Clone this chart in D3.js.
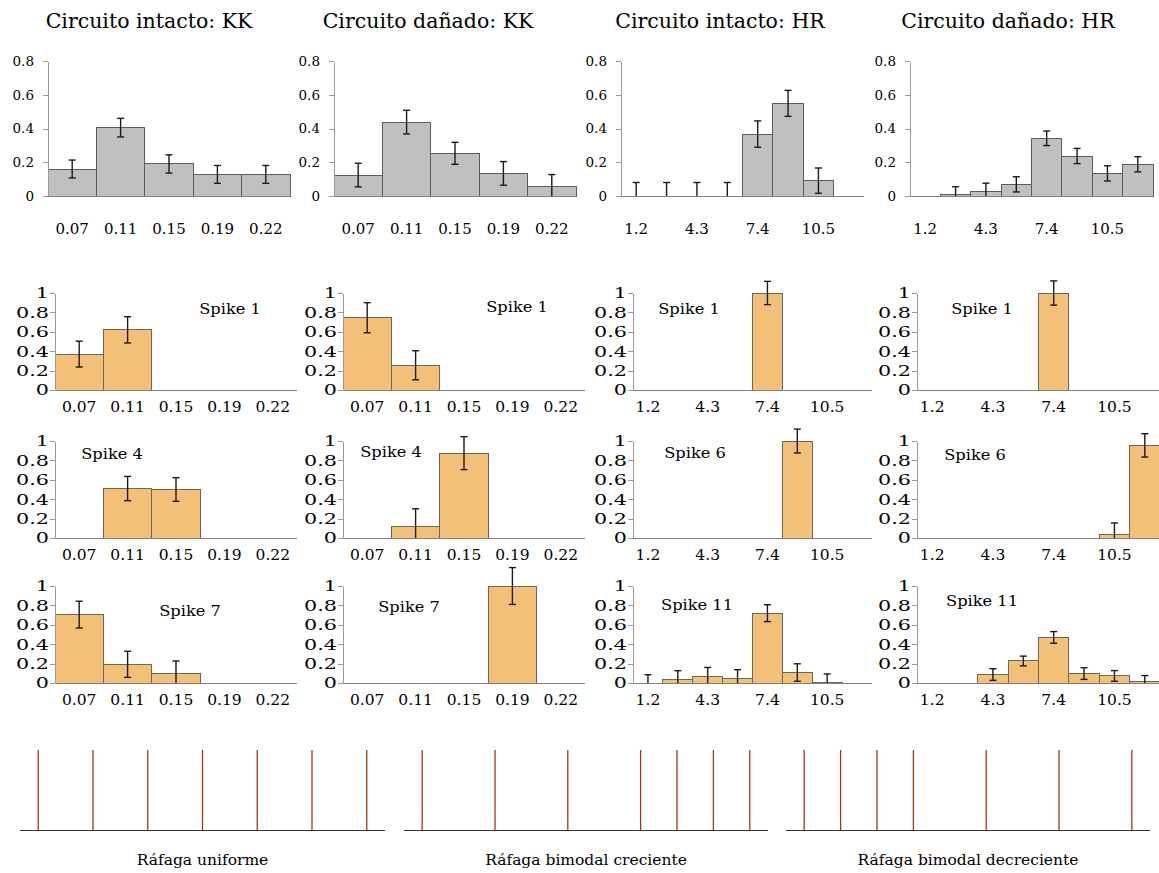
<!DOCTYPE html>
<html>
<head>
    <title>Histogramas de intervalos</title>
    <meta charset="utf-8">
    <style>
        body { margin: 0; background: #fff; }
        svg text { font-family: "DejaVu Serif", serif; fill: #000; }
        .axis path,
        .axis line {
            fill: none;
            stroke: #9a9a9a;
            shape-rendering: crispEdges;
        }
        .base { stroke: #808080; stroke-width: 1px; shape-rendering: crispEdges; }
        .bar { stroke-width: 1px; shape-rendering: crispEdges; }
        .err line { stroke: #1a1a1a; stroke-width: 1.4px; }
        .spike { stroke: #9a3c14; stroke-width: 1.3px; }
        .train { stroke: #333; stroke-width: 1.2px; }
    </style>
    <script src="https://d3js.org/d3.v7.min.js"></script>
</head>
<body>
    <script>
        var kkLabels = ["0.07", "0.11", "0.15", "0.19", "0.22"];
        var hrLabels = ["1.2", "", "4.3", "", "7.4", "", "10.5", ""];
        var titles = ["Circuito intacto: KK", "Circuito dañado: KK", "Circuito intacto: HR", "Circuito dañado: HR"];

        // fila 1: todos los spikes
        var kkIntacto    = [0.16, 0.405, 0.19, 0.128, 0.128];
        var kkIntactoErr = [0.053, 0.055, 0.054, 0.053, 0.053];
        var kkDanado     = [0.124, 0.438, 0.253, 0.134, 0.055];
        var kkDanadoErr  = [0.07, 0.07, 0.065, 0.07, 0.072];
        var hrIntacto    = [0, 0, 0, 0, 0.367, 0.549, 0.091, 0];
        var hrIntactoErr = [0.08, 0.08, 0.08, 0.08, 0.078, 0.077, 0.075, null];
        var hrDanado     = [0, 0.01, 0.026, 0.069, 0.342, 0.237, 0.134, 0.188];
        var hrDanadoErr  = [null, 0.045, 0.05, 0.045, 0.043, 0.045, 0.045, 0.045];

        // fila 2
        var kkIntactoS1    = [0.37, 0.62, 0, 0, 0];
        var kkIntactoS1Err = [0.133, 0.135, null, null, null];
        var kkDanadoS1     = [0.745, 0.255, 0, 0, 0];
        var kkDanadoS1Err  = [0.155, 0.15, null, null, null];
        var hrIntactoS1    = [0, 0, 0, 0, 1, 0, 0, 0];
        var hrIntactoS1Err = [null, null, null, null, 0.12, null, null, null];
        var hrDanadoS1     = [0, 0, 0, 0, 1, 0, 0, 0];
        var hrDanadoS1Err  = [null, null, null, null, 0.125, null, null, null];

        // fila 3
        var kkIntactoS4    = [0, 0.51, 0.5, 0, 0];
        var kkIntactoS4Err = [null, 0.125, 0.122, null, null];
        var kkDanadoS4     = [0, 0.123, 0.875, 0, 0];
        var kkDanadoS4Err  = [null, 0.178, 0.17, null, null];
        var hrIntactoS6    = [0, 0, 0, 0, 0, 1, 0, 0];
        var hrIntactoS6Err = [null, null, null, null, null, 0.123, null, null];
        var hrDanadoS6     = [0, 0, 0, 0, 0, 0, 0.035, 0.955];
        var hrDanadoS6Err  = [null, null, null, null, null, null, 0.12, 0.12];

        // fila 4
        var kkIntactoS7     = [0.705, 0.193, 0.097, 0, 0];
        var kkIntactoS7Err  = [0.138, 0.135, 0.13, null, null];
        var kkDanadoS7      = [0, 0, 0, 1, 0];
        var kkDanadoS7Err   = [null, null, null, 0.19, null];
        var hrIntactoS11    = [0, 0.035, 0.07, 0.045, 0.72, 0.108, 0.007, 0];
        var hrIntactoS11Err = [0.085, 0.092, 0.09, 0.092, 0.087, 0.09, 0.086, null];
        var hrDanadoS11     = [0, 0, 0.087, 0.227, 0.47, 0.097, 0.073, 0.017];
        var hrDanadoS11Err  = [null, null, 0.06, 0.05, 0.06, 0.06, 0.055, 0.06];

        var spikeLabels = [
            ["Spike 1", "Spike 1", "Spike 1", "Spike 1"],
            ["Spike 4", "Spike 4", "Spike 6", "Spike 6"],
            ["Spike 7", "Spike 7", "Spike 11", "Spike 11"]
        ];

        // trenes de spikes (tiempo, 0..20)
        var trainNames = ["Ráfaga uniforme", "Ráfaga bimodal creciente", "Ráfaga bimodal decreciente"];
        var uniforme = [1, 4, 7, 10, 13, 16, 19];
        var creciente = [1, 5, 9, 13, 15, 17, 19];
        var decreciente = [1, 3, 5, 7, 11, 15, 19];

        var panelData = [
            [[kkIntacto, kkIntactoErr], [kkDanado, kkDanadoErr], [hrIntacto, hrIntactoErr], [hrDanado, hrDanadoErr]],
            [[kkIntactoS1, kkIntactoS1Err], [kkDanadoS1, kkDanadoS1Err], [hrIntactoS1, hrIntactoS1Err], [hrDanadoS1, hrDanadoS1Err]],
            [[kkIntactoS4, kkIntactoS4Err], [kkDanadoS4, kkDanadoS4Err], [hrIntactoS6, hrIntactoS6Err], [hrDanadoS6, hrDanadoS6Err]],
            [[kkIntactoS7, kkIntactoS7Err], [kkDanadoS7, kkDanadoS7Err], [hrIntactoS11, hrIntactoS11Err], [hrDanadoS11, hrDanadoS11Err]]
        ];

        // layout
        var rows = [
            { top: 61, base: 196, yMax: 0.8, ticks: [0, 0.2, 0.4, 0.6, 0.8], labelDy: 33, fill: "#c0c0c0", stroke: "#5c5c5c" },
            { top: 293, base: 390, yMax: 1, ticks: [0, 0.2, 0.4, 0.6, 0.8, 1], labelDy: 17, fill: "#f2c077", stroke: "#6e665a" },
            { top: 441, base: 538, yMax: 1, ticks: [0, 0.2, 0.4, 0.6, 0.8, 1], labelDy: 17, fill: "#f2c077", stroke: "#6e665a" },
            { top: 586, base: 683, yMax: 1, ticks: [0, 0.2, 0.4, 0.6, 0.8, 1], labelDy: 17, fill: "#f2c077", stroke: "#6e665a" }
        ];
        var colsTop = [[48, 290], [334, 576], [621, 864], [910, 1153]];
        var colsSpike = [[55, 297], [343, 585], [633, 872], [917, 1160]];
        var titleX = [149, 428, 720, 1008];
        var spikeLabelPos = [
            [[230, 309], [517, 307], [689, 309], [982, 309]],
            [[112, 454], [391, 452], [695, 453], [975, 455]],
            [[190, 611], [409, 607], [697, 605], [982, 601]]
        ];

        var svg = d3.select("body").append("svg")
            .attr("width", 1159)
            .attr("height", 873);

        titles.forEach(function(t, i) {
            svg.append("text")
                .attr("x", titleX[i])
                .attr("y", 28)
                .attr("text-anchor", "middle")
                .attr("font-size", 20.5)
                .text(t);
        });

        function drawPanel(r, c) {
            var row = rows[r];
            var range = (r === 0 ? colsTop : colsSpike)[c];
            var labels = c < 2 ? kkLabels : hrLabels;
            var vals = panelData[r][c][0];
            var errs = panelData[r][c][1];

            var x = d3.scaleBand().domain(d3.range(labels.length)).range(range);
            var y = d3.scaleLinear().domain([0, row.yMax]).range([row.base, row.top]);

            var items = vals.map(function(v, i) { return { i: i, v: v, e: errs[i] }; });
            var g = svg.append("g");

            g.selectAll(".bar")
                .data(items.filter(function(d) { return d.v > 0; }))
                .join("rect")
                .attr("class", "bar")
                .attr("x", function(d) { return x(d.i); })
                .attr("width", x.bandwidth())
                .attr("y", function(d) { return y(d.v); })
                .attr("height", function(d) { return y(0) - y(d.v); })
                .attr("fill", row.fill)
                .attr("stroke", row.stroke);

            // eje x (linea base)
            g.append("line")
                .attr("class", "base")
                .attr("x1", range[0] - 5)
                .attr("x2", range[1])
                .attr("y1", y(0) + 0.5)
                .attr("y2", y(0) + 0.5);

            // barras de error
            var eg = g.selectAll(".err")
                .data(items.filter(function(d) { return d.e != null; }))
                .join("g")
                .attr("class", "err")
                .attr("transform", function(d) { return "translate(" + (x(d.i) + x.bandwidth() / 2) + ",0)"; });
            eg.append("line")
                .attr("y1", function(d) { return y(Math.max(0, d.v - d.e)); })
                .attr("y2", function(d) { return y(d.v + d.e); });
            eg.append("line")
                .attr("x1", -3.5).attr("x2", 3.5)
                .attr("y1", function(d) { return y(d.v + d.e); })
                .attr("y2", function(d) { return y(d.v + d.e); });
            eg.filter(function(d) { return d.v - d.e > 0; })
                .append("line")
                .attr("x1", -3.5).attr("x2", 3.5)
                .attr("y1", function(d) { return y(d.v - d.e); })
                .attr("y2", function(d) { return y(d.v - d.e); });

            // eje y
            var yAxis = d3.axisLeft(y)
                .tickValues(row.ticks)
                .tickSize(5)
                .tickSizeOuter(0)
                .tickFormat(d3.format("~g"));
            var ga = g.append("g")
                .attr("class", "axis")
                .attr("transform", "translate(" + range[0] + ",0)")
                .call(yAxis)
                .attr("font-family", null)
                .attr("font-size", r === 0 ? 13.5 : 15);
            if (r === 0) {
                ga.selectAll("text").attr("x", -14);
            } else {
                var sx = 1.38;
                ga.selectAll("text")
                    .attr("transform", "scale(" + sx + ",1)")
                    .attr("x", -6 / sx);
            }

            // etiquetas x
            var fs = r === 0 ? 15 : 15.5;
            var xAxis = d3.axisBottom(x)
                .tickSize(0)
                .tickPadding(row.labelDy - fs * 0.36)
                .tickFormat(function(i) { return labels[i]; });
            var gx = g.append("g")
                .attr("transform", "translate(0," + row.base + ")")
                .call(xAxis)
                .attr("font-family", null)
                .attr("font-size", fs);
            gx.select(".domain").remove();

            if (r > 0) {
                var p = spikeLabelPos[r - 1][c];
                g.append("text")
                    .attr("transform", "translate(" + p[0] + "," + p[1] + ") scale(1.12,1)")
                    .attr("text-anchor", "middle")
                    .attr("dy", "0.36em")
                    .attr("font-size", 14.5)
                    .text(spikeLabels[r - 1][c]);
            }
        }

        for (var r = 0; r < 4; r++) {
            for (var c = 0; c < 4; c++) drawPanel(r, c);
        }

        // trenes de spikes
        var trains = [uniforme, creciente, decreciente];
        var trainRanges = [[20, 385], [404, 768], [786, 1150]];
        trains.forEach(function(times, k) {
            var t = d3.scaleLinear().domain([0, 20]).range(trainRanges[k]);
            var g = svg.append("g");
            g.selectAll(".spike")
                .data(times)
                .join("line")
                .attr("class", "spike")
                .attr("x1", function(d) { return t(d); })
                .attr("x2", function(d) { return t(d); })
                .attr("y1", 750)
                .attr("y2", 830);
            g.append("line")
                .attr("class", "train")
                .attr("x1", t(0)).attr("x2", t(20))
                .attr("y1", 830.5).attr("y2", 830.5);
            g.append("text")
                .attr("x", (trainRanges[k][0] + trainRanges[k][1]) / 2)
                .attr("y", 865)
                .attr("text-anchor", "middle")
                .attr("font-size", 15.5)
                .text(trainNames[k]);
        });
    </script>
</body>
</html>
